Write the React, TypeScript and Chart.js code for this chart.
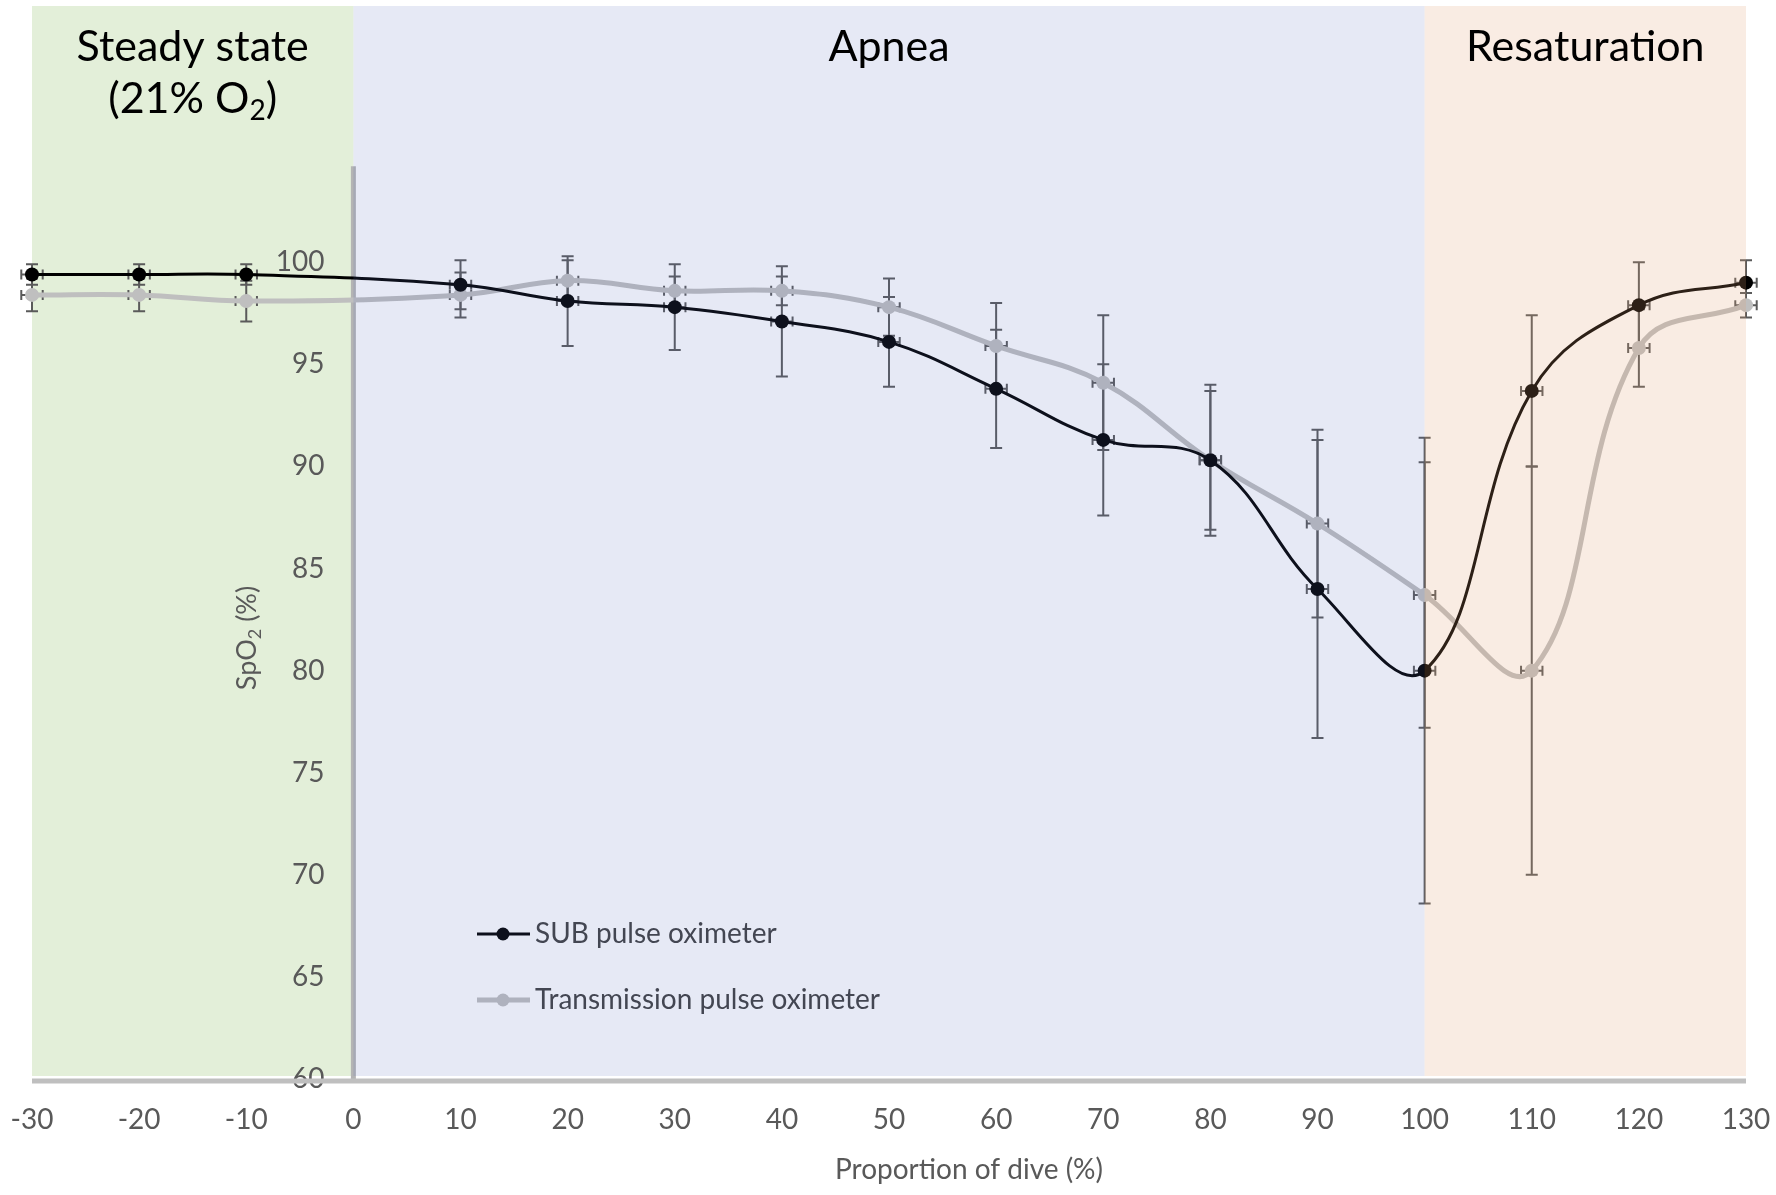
import { useEffect, useRef } from "react";
import { Chart, registerables } from "chart.js";

Chart.register(...registerables);

// proportion of dive (%) where each mean was taken
const dives = [-30, -20, -10, 10, 20, 30, 40, 50, 60, 70, 80, 90, 100, 110, 120, 130];
// SUB pulse oximeter, mean SpO2 and its error
const subSpO2 = [99.4, 99.4, 99.4, 98.9, 98.1, 97.8, 97.1, 96.1, 93.8, 91.3, 90.3, 84.0, 80.0, 93.7, 97.9, 99.0];
const subErr = [0.5, 0.5, 0.5, 1.2, 2.2, 2.1, 2.7, 2.2, 2.9, 3.7, 3.7, 7.3, 11.4, 3.7, 2.1, 1.1];
// transmission pulse oximeter
const transSpO2 = [98.4, 98.4, 98.1, 98.4, 99.1, 98.6, 98.6, 97.8, 95.9, 94.1, 90.3, 87.2, 83.7, 80.0, 95.8, 97.9];
const transErr = [0.8, 0.8, 1.0, 1.1, 1.0, 0.7, 0.7, 1.4, 2.1, 3.3, 3.4, 4.6, 6.5, 10.0, 1.9, 0.6];
// horizontal error, same on every point
const diveErr = [1, 1, 1, 1, 1, 1, 1, 1, 1, 1, 1, 1, 1, 1, 1, 1];

const yTicks = [60, 65, 70, 75, 80, 85, 90, 95, 100];
const yAxisTop = 104.7;

const phaseNames = ["Steady state", "Apnea", "Resaturation"];
const phaseStart = [-30, 0, 100];
const phaseEnd = [0, 100, 130];

const FONT = "Lato, 'Open Sans', sans-serif";
const TEXT = "#595959";
// the first band sits under the data, the other two are laid over it
const steadyFill = "#e3efd9";
const phaseTints = [null, "rgba(88,108,188,0.15)", "rgba(225,160,115,0.2)"];

const noPadding = (scale: any) => {
  scale.paddingLeft = 0;
  scale.paddingRight = 0;
  scale.paddingTop = 0;
  scale.paddingBottom = 0;
};

const chartDecor = {
  id: "chartDecor",
  beforeDatasetsDraw(chart: any) {
    const { ctx, chartArea } = chart;
    const x = chart.scales.x;
    const y = chart.scales.y;
    ctx.save();
    const gl = x.getPixelForValue(phaseStart[0]);
    const gr = x.getPixelForValue(phaseEnd[0]);
    ctx.globalCompositeOperation = "destination-over";
    ctx.fillStyle = steadyFill;
    ctx.fillRect(gl, chartArea.top, gr - gl, chartArea.bottom - 3 - chartArea.top);
    ctx.globalCompositeOperation = "source-over";

    // vertical axis line at 0
    ctx.strokeStyle = "#b4b4b4";
    ctx.lineWidth = 5;
    ctx.beginPath();
    ctx.moveTo(x.getPixelForValue(0), y.getPixelForValue(60));
    ctx.lineTo(x.getPixelForValue(0), y.getPixelForValue(yAxisTop));
    ctx.stroke();

    // error bars
    ctx.strokeStyle = "#5a5a5a";
    ctx.lineWidth = 2;
    const series = [
      [subSpO2, subErr],
      [transSpO2, transErr],
    ];
    series.forEach(([vals, errs]) => {
      vals.forEach((v, i) => {
        const px = x.getPixelForValue(dives[i]);
        const py = y.getPixelForValue(v);
        const top = y.getPixelForValue(v + errs[i]);
        const bot = y.getPixelForValue(v - errs[i]);
        const l = x.getPixelForValue(dives[i] - diveErr[i]);
        const r = x.getPixelForValue(dives[i] + diveErr[i]);
        ctx.beginPath();
        ctx.moveTo(px, top);
        ctx.lineTo(px, bot);
        ctx.moveTo(px - 6, top);
        ctx.lineTo(px + 6, top);
        ctx.moveTo(px - 6, bot);
        ctx.lineTo(px + 6, bot);
        ctx.moveTo(l, py);
        ctx.lineTo(r, py);
        ctx.moveTo(l, py - 5);
        ctx.lineTo(l, py + 5);
        ctx.moveTo(r, py - 5);
        ctx.lineTo(r, py + 5);
        ctx.stroke();
      });
    });
    ctx.restore();
  },
  afterDatasetsDraw(chart: any) {
    const { ctx, chartArea } = chart;
    const x = chart.scales.x;
    ctx.save();

    // legend
    chart.data.datasets.forEach((ds: any, i: number) => {
      const ly = 934 + i * 66;
      ctx.strokeStyle = ds.borderColor;
      ctx.lineWidth = ds.borderWidth;
      ctx.beginPath();
      ctx.moveTo(477, ly);
      ctx.lineTo(530, ly);
      ctx.stroke();
      ctx.fillStyle = ds.pointBackgroundColor;
      ctx.beginPath();
      ctx.arc(503, ly, 6.5, 0, Math.PI * 2);
      ctx.fill();
      ctx.fillStyle = "#404040";
      ctx.font = `28px ${FONT}`;
      ctx.textAlign = "left";
      ctx.textBaseline = "middle";
      ctx.fillText(ds.label, 535, ly);
    });

    // apnea and resaturation bands, laid over the data
    phaseNames.forEach((_, i) => {
      if (!phaseTints[i]) return;
      const l = x.getPixelForValue(phaseStart[i]);
      const r = x.getPixelForValue(phaseEnd[i]);
      ctx.fillStyle = phaseTints[i];
      ctx.fillRect(l, chartArea.top, r - l, chartArea.bottom - 3 - chartArea.top);
    });

    // phase titles
    ctx.fillStyle = "#000000";
    ctx.textBaseline = "alphabetic";
    phaseNames.forEach((name, i) => {
      const cx = (x.getPixelForValue(phaseStart[i]) + x.getPixelForValue(phaseEnd[i])) / 2;
      ctx.font = `43px ${FONT}`;
      ctx.textAlign = "center";
      ctx.fillText(name, cx, 61);
      if (i === 0) {
        const big = `43px ${FONT}`;
        const small = `28px ${FONT}`;
        ctx.font = big;
        const w1 = ctx.measureText("(21% O").width;
        const w3 = ctx.measureText(")").width;
        ctx.font = small;
        const w2 = ctx.measureText("2").width;
        let sx = cx - (w1 + w2 + w3) / 2;
        ctx.textAlign = "left";
        ctx.font = big;
        ctx.fillText("(21% O", sx, 113);
        sx += w1;
        ctx.font = small;
        ctx.fillText("2", sx, 120);
        sx += w2;
        ctx.font = big;
        ctx.fillText(")", sx, 113);
      }
    });

    // y axis title with subscript
    ctx.fillStyle = TEXT;
    ctx.translate(248, 638);
    ctx.rotate(-Math.PI / 2);
    const t1 = "SpO";
    const t3 = " (%)";
    ctx.font = `27px ${FONT}`;
    const a = ctx.measureText(t1).width;
    const c = ctx.measureText(t3).width;
    ctx.font = `18px ${FONT}`;
    const b = ctx.measureText("2").width;
    let tx = -(a + b + c) / 2;
    ctx.textAlign = "left";
    ctx.font = `27px ${FONT}`;
    ctx.fillText(t1, tx, 8);
    tx += a;
    ctx.font = `18px ${FONT}`;
    ctx.fillText("2", tx, 13);
    tx += b;
    ctx.font = `27px ${FONT}`;
    ctx.fillText(t3, tx, 8);
    ctx.restore();
  },
  afterDraw(chart: any) {
    const { ctx } = chart;
    const x = chart.scales.x;
    const y = chart.scales.y;
    ctx.save();
    // horizontal axis line
    ctx.strokeStyle = "#bfbfbf";
    ctx.lineWidth = 5;
    ctx.beginPath();
    ctx.moveTo(x.getPixelForValue(-30), y.getPixelForValue(60) + 2);
    ctx.lineTo(x.getPixelForValue(130), y.getPixelForValue(60) + 2);
    ctx.stroke();
    // x axis title
    ctx.fillStyle = TEXT;
    ctx.font = `28px ${FONT}`;
    ctx.textAlign = "center";
    ctx.textBaseline = "alphabetic";
    ctx.fillText("Proportion of dive (%)", 969, 1179);
    ctx.restore();
  },
};

export default function App() {
  const chartRef = useRef<HTMLCanvasElement>(null);

  useEffect(() => {
    document.body.style.margin = "0";
    if (!chartRef.current) return;

    const chart = new Chart(chartRef.current, {
      type: "line",
      data: {
        datasets: [
          {
            label: "SUB pulse oximeter",
            data: dives.map((d, i) => ({ x: d, y: subSpO2[i] })),
            borderColor: "#000000",
            backgroundColor: "#000000",
            pointBackgroundColor: "#000000",
            pointBorderWidth: 0,
            pointRadius: 7,
            borderWidth: 3,
            tension: 0.4,
            clip: false,
          },
          {
            label: "Transmission pulse oximeter",
            data: dives.map((d, i) => ({ x: d, y: transSpO2[i] })),
            borderColor: "#bfbfbf",
            backgroundColor: "#bfbfbf",
            pointBackgroundColor: "#bfbfbf",
            pointBorderWidth: 0,
            pointRadius: 7,
            borderWidth: 5,
            tension: 0.4,
            clip: false,
          },
        ],
      },
      options: {
        responsive: false,
        animation: false,
        devicePixelRatio: 1,
        layout: { autoPadding: false, padding: { left: 32, right: 30, top: 6, bottom: 61 } },
        plugins: { legend: { display: false }, tooltip: { enabled: false } },
        scales: {
          x: {
            type: "linear",
            min: -30,
            max: 130,
            afterFit: (scale: any) => {
              noPadding(scale);
              scale.height = 55;
            },
            ticks: { stepSize: 10, color: TEXT, font: { family: FONT, size: 28 }, padding: 24 },
            grid: { display: false, drawTicks: false },
            border: { display: false },
          },
          y: {
            type: "linear",
            position: { x: -2.7 },
            min: 60,
            max: 112.55,
            afterFit: noPadding,
            afterBuildTicks: (scale: any) => {
              scale.ticks = yTicks.map((v) => ({ value: v }));
            },
            ticks: { color: TEXT, font: { family: FONT, size: 28 } },
            grid: { display: false, drawTicks: false },
            border: { display: false },
          },
        },
      },
      plugins: [chartDecor],
    });

    return () => chart.destroy();
  }, []);

  return (
    <div style={{ width: 1776, height: 1195, background: "#ffffff" }}>
      <canvas ref={chartRef} width={1776} height={1195} />
    </div>
  );
}
